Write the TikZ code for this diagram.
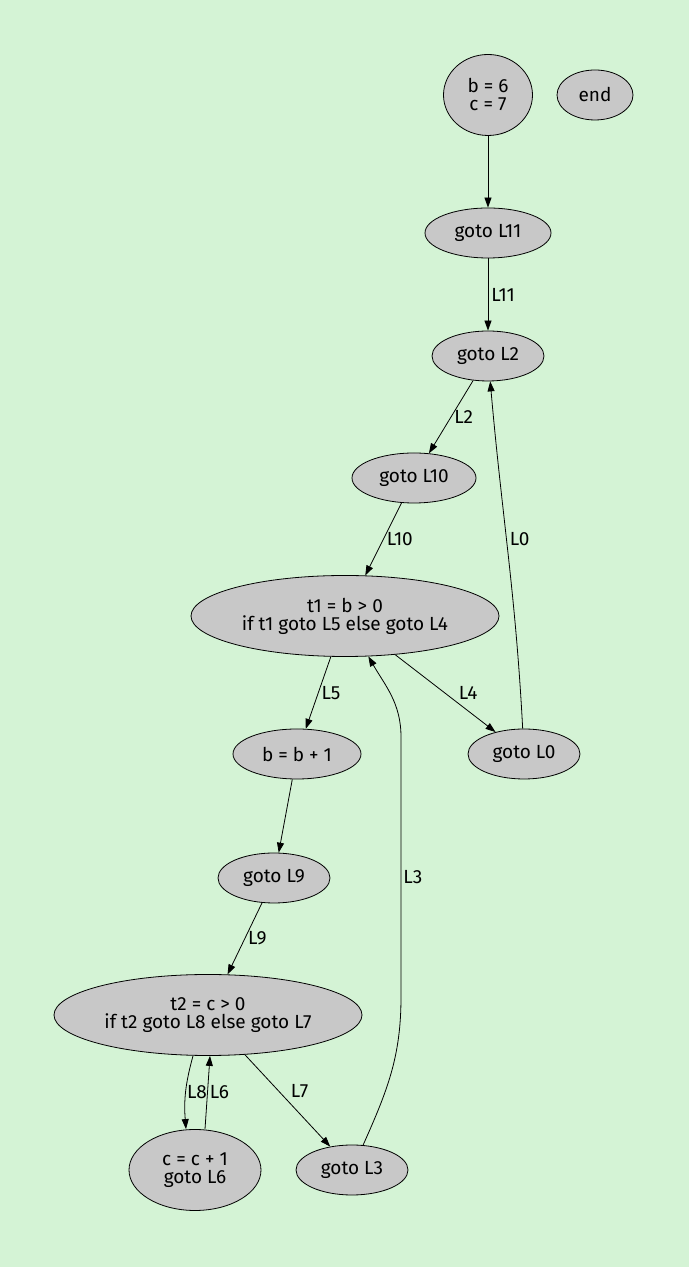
\documentclass[tikz,border=0pt]{standalone}
\usepackage{fontspec}
\setmainfont{Fira Sans}
\usepackage{tikz}
\usetikzlibrary{arrows.meta}
\usetikzlibrary{shapes}
\definecolor{bggreen}{RGB}{212,243,213}
\definecolor{nodegray}{RGB}{200,200,200}
\begin{document}
\begin{tikzpicture}[x=1pt,y=1pt,line width=0.8pt,
  >={Triangle[length=10pt,width=7pt]},
  blk/.style={ellipse,draw,fill=nodegray,align=center,inner sep=2pt,
    minimum height=50pt,minimum width=#1,font=\fontsize{19}{18}\selectfont},
  blkk/.style={blk=#1,minimum height=81pt},
  lbl/.style={font=\fontsize{19}{18}\selectfont,inner sep=3pt}]
\fill [bggreen] (0,0) rectangle (689,1267);
\useasboundingbox (0,0) rectangle (689,1267);
\node [blkk=89pt] (init) at (488,1172) {b = 6\\c = 7};
\node [blk=76pt] (fin) at (595,1172) {end};
\node [blk=126pt] (g11) at (488,1034) {goto L11};
\node [blk=112pt] (g2) at (488,911) {goto L2};
\node [blk=124pt] (g10) at (414,789) {goto L10};
\node [blkk=308pt] (if1) at (345,651) {t1 = b > 0\\if t1 goto L5 else goto L4};
\node [blk=128pt] (inc1) at (297,513) {b = b + 1};
\node [blk=112pt] (g0) at (524,513) {goto L0};
\node [blk=112pt] (g9) at (274,389) {goto L9};
\node [blkk=308pt] (if2) at (208,252) {t2 = c > 0\\if t2 goto L8 else goto L7};
\node [blkk=132pt] (inc2) at (195,97) {c = c + 1\\goto L6};
\node [blk=112pt] (g3) at (352,97) {goto L3};
\draw [->] (init) -- (g11);
\draw [->] (g11) -- node [lbl,right] {L11} (g2);
\draw [->] (g2) -- node [lbl,right] {L2} (g10);
\draw [->] (g10) -- node [lbl,right] {L10} (if1);
\draw [->] (if1) -- node [lbl,right] {L5} (inc1);
\draw [->] (if1) -- node [lbl,right=10pt] {L4} (g0);
\draw [->] (g0) to[out=93,in=-85] node [lbl,right,pos=0.55] {L0} (g2);
\draw [->] (inc1) -- (g9);
\draw [->] (g9) -- node [lbl,right] {L9} (if2);
\draw [->] ([xshift=-15pt]if2.south) to[bend right=10] node [lbl,right,inner sep=1pt] {L8} ([xshift=-9pt]inc2.north);
\draw [->] ([xshift=10pt]inc2.north) -- node [lbl,right,inner sep=2pt] {L6} ([xshift=2pt]if2.south);
\draw [->] (if2) -- node [lbl,above right] {L7} (g3);
\draw [->] (g3) to[out=66,in=-90] (401,270) -- node [lbl,right,pos=0.46,inner sep=2pt] {L3} (401,530) to[out=90,in=-60] (if1);
\end{tikzpicture}
\end{document}
